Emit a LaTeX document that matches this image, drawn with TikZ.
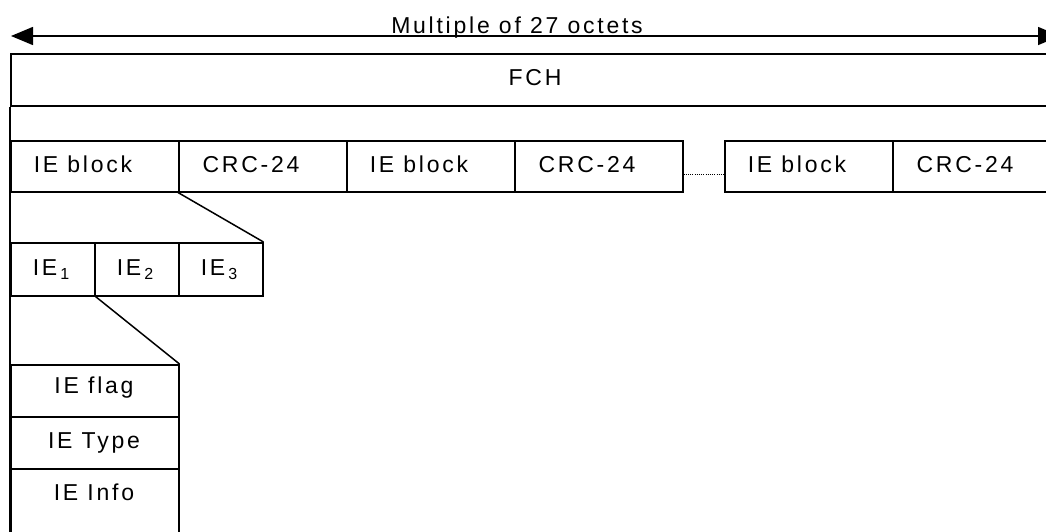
\documentclass[tikz,border=0pt]{standalone}
\usepackage{fontspec}
\setmainfont{Liberation Sans}[LetterSpace=12]
\usetikzlibrary{arrows.meta,calc}
\begin{document}
\begin{tikzpicture}[x=1pt,y=-1pt,
  ln/.style={line width=1.5pt},
  box/.style={draw, line width=1.5pt, inner sep=0pt, anchor=north west, minimum width=168pt, minimum height=51pt},
  sbox/.style={box, minimum width=84pt, minimum height=53pt},
  vbox/.style={box, minimum width=168pt, minimum height=52pt},
  lbl/.style={inner sep=0pt, anchor=base, font=\fontsize{23}{28}\selectfont},
  sub/.style={font=\fontsize{16}{16}\selectfont}]
\useasboundingbox (0,0) rectangle (1046,531);
\clip (0,0) rectangle (1046,531);
% top dimension arrow
\coordinate (al) at (11,36);
\coordinate (ar) at (1060,36);
\draw[line width=1.5pt, {Triangle[length=22pt,width=18pt]}-{Triangle[length=22pt,width=18pt]}] (al) -- (ar);
\node[lbl] (mult) at (517,33) {Multiple of 27 octets};
% FCH
\node[box, minimum width=1050pt, minimum height=52pt] (fch) at (10,53) {};
\node[lbl] (tfch) at (535,85.7) {FCH};
\coordinate (fbot) at (10,560);
\draw[ln] (fch.south west) -- (fbot);
% block row
\node[box] (b1) at (10,140) {};
\node[box] (c1) at (178,140) {};
\node[box] (b2) at (346,140) {};
\node[box] (c2) at (514,140) {};
\node[box] (b3) at (724,140) {};
\node[box] (c3) at (892,140) {};
\node[lbl] (tb1) at (83,172) {IE block};
\node[lbl] (tc1) at (251,172) {CRC-24};
\node[lbl] (tb2) at (419,172) {IE block};
\node[lbl] (tc2) at (587,172) {CRC-24};
\node[lbl] (tb3) at (797,172) {IE block};
\node[lbl] (tc3) at (965,172) {CRC-24};
\draw[line width=0.9pt, dash pattern=on 1pt off 1.2pt] ([yshift=-8.5pt]c2.east) -- ([yshift=-8.5pt]b3.west);
% IE row
\node[sbox] (i1) at (10,242) {};
\node[sbox] (i2) at (94,242) {};
\node[sbox] (i3) at (178,242) {};
\node[lbl] (ti1) at (51,275) {IE\kern3pt\raisebox{-4pt}{\fontsize{16}{16}\selectfont 1}};
\node[lbl] (ti2) at (135,275) {IE\kern3pt\raisebox{-4pt}{\fontsize{16}{16}\selectfont 2}};
\node[lbl] (ti3) at (219,275) {IE\kern3pt\raisebox{-4pt}{\fontsize{16}{16}\selectfont 3}};
\draw[ln] (c1.south west) -- (i3.north east);
% IE fields
\node[vbox] (vf) at (10,364) {};
\node[vbox] (vt) at (10,416) {};
\node[vbox, minimum height=90pt] (vi) at (10,468) {};
\node[lbl] (tvf) at (94,393) {IE flag};
\node[lbl] (tvt) at (94,448) {IE Type};
\node[lbl] (tvi) at (94,500) {IE Info};
\draw[ln] (i1.south east) -- (vf.north east);
\end{tikzpicture}
\end{document}
